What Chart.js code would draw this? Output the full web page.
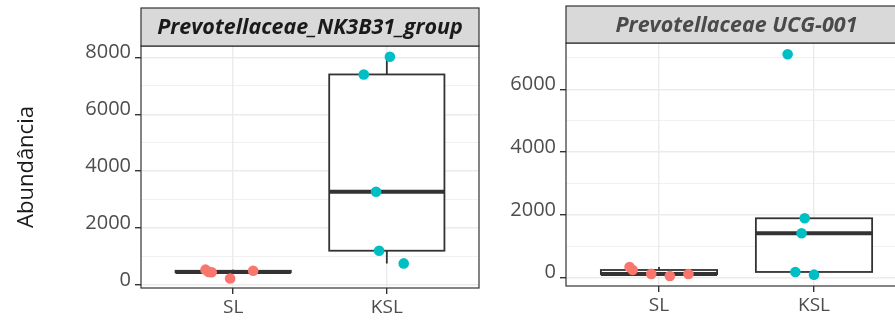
<!DOCTYPE html>
<html>
<head>
<meta charset="utf-8">
<script src="https://cdn.jsdelivr.net/npm/chart.js@4.4.0/dist/chart.umd.min.js"></script>
<style>
  html, body { margin: 0; padding: 0; background: #fff; }
  #wrap { position: relative; width: 895px; height: 322px; overflow: hidden; }
  .panel { position: absolute; top: 0; height: 322px; }
  #p1 { left: 0; width: 485px; }
  #p2 { left: 485px; width: 430px; }
</style>
</head>
<body>
<div id="wrap">
  <div class="panel" id="p1"><canvas id="nkChart"></canvas></div>
  <div class="panel" id="p2"><canvas id="ucgChart"></canvas></div>
</div>
<script>
const groups = ['SL', 'KSL'];
const groupColors = ['#F8766D', '#00BFC4'];

// Prevotellaceae_NK3B31_group
const nkSL = [540, 460, 450, 230, 500];
const nkSLJitter = [-0.18, -0.16, -0.14, -0.02, 0.13];
const nkKSL = [8020, 7400, 3280, 1205, 760];
const nkKSLJitter = [0.02, -0.15, -0.07, -0.05, 0.11];
const nkTicks = [0, 1000, 2000, 3000, 4000, 5000, 6000, 7000, 8000];

// Prevotellaceae UCG-001
const ucgSL = [340, 245, 120, 55, 115];
const ucgSLJitter = [-0.19, -0.17, -0.05, 0.07, 0.19];
const ucgKSL = [7115, 1892, 1414, 182, 96];
const ucgKSLJitter = [-0.17, -0.06, -0.08, -0.12, 0.0];
const ucgTicks = [0, 1000, 2000, 3000, 4000, 5000, 6000, 7000];

const FONT = "'Open Sans', 'DejaVu Sans', sans-serif";

// --- Helpers ---

function quantile(sorted, p) {
    const h = (sorted.length - 1) * p;
    const lo = Math.floor(h);
    const hi = Math.min(lo + 1, sorted.length - 1);
    return sorted[lo] + (h - lo) * (sorted[hi] - sorted[lo]);
}

function boxStats(values) {
    const s = [...values].sort((a, b) => a - b);
    const q1 = quantile(s, 0.25), med = quantile(s, 0.5), q3 = quantile(s, 0.75);
    const iqr = q3 - q1;
    const inside = s.filter(v => v >= q1 - 1.5 * iqr && v <= q3 + 1.5 * iqr);
    return { q1, med, q3, lo: Math.min(...inside), hi: Math.max(...inside) };
}

function pointSet(values, jitter, gi) {
    return {
        type: 'scatter',
        data: values.map((v, i) => ({ x: gi + 1 + jitter[i], y: v })),
        backgroundColor: groupColors[gi],
        borderWidth: 0,
        pointRadius: 5.3,
        pointHoverRadius: 5.3
    };
}

// boxes under the points, panel border + strip on top
const facetPlugin = {
    id: 'facet',
    beforeDatasetsDraw(chart) {
        const opts = chart.options.plugins.facet;
        const { ctx, scales: { x, y } } = chart;
        ctx.save();
        ctx.strokeStyle = '#333333';
        opts.series.forEach((values, gi) => {
            const st = boxStats(values);
            const cx = x.getPixelForValue(gi + 1);
            const l = x.getPixelForValue(gi + 1 - 0.375);
            const r = x.getPixelForValue(gi + 1 + 0.375);
            const yq1 = y.getPixelForValue(st.q1), yq3 = y.getPixelForValue(st.q3);
            ctx.lineWidth = 1.8;
            ctx.beginPath();
            ctx.moveTo(cx, yq3); ctx.lineTo(cx, y.getPixelForValue(st.hi));
            ctx.moveTo(cx, yq1); ctx.lineTo(cx, y.getPixelForValue(st.lo));
            ctx.stroke();
            ctx.fillStyle = '#ffffff';
            ctx.fillRect(l, yq3, r - l, yq1 - yq3);
            ctx.strokeRect(l, yq3, r - l, yq1 - yq3);
            ctx.lineWidth = 4;
            ctx.beginPath();
            const ym = y.getPixelForValue(st.med);
            ctx.moveTo(l, ym); ctx.lineTo(r, ym);
            ctx.stroke();
        });
        ctx.restore();
    },
    afterDraw(chart) {
        const opts = chart.options.plugins.facet;
        const { ctx, chartArea: a } = chart;
        ctx.save();
        ctx.strokeStyle = '#333333';
        ctx.lineWidth = 1.2;
        ctx.strokeRect(a.left, a.top, a.right - a.left, a.bottom - a.top);
        ctx.fillStyle = '#D9D9D9';
        ctx.fillRect(a.left, opts.stripTop, a.right - a.left, a.top - opts.stripTop);
        ctx.strokeRect(a.left, opts.stripTop, a.right - a.left, a.top - opts.stripTop);
        ctx.fillStyle = opts.titleColor;
        ctx.font = `italic bold 21.5px ${FONT}`;
        ctx.textAlign = 'center';
        ctx.textBaseline = 'middle';
        ctx.fillText(opts.title, (a.left + a.right) / 2, (opts.stripTop + a.top) / 2 + 1);
        ctx.restore();
    }
};

function makePanel(canvasId, cfg) {
    const major = v => v % 2000 === 0;
    return new Chart(document.getElementById(canvasId), {
        data: {
            datasets: [
                pointSet(cfg.sl, cfg.slJitter, 0),
                pointSet(cfg.ksl, cfg.kslJitter, 1)
            ]
        },
        options: {
            responsive: true,
            maintainAspectRatio: false,
            animation: false,
            events: [],
            layout: { padding: { top: cfg.top, right: cfg.right, left: 0, bottom: 0 } },
            plugins: {
                legend: { display: false },
                tooltip: { enabled: false },
                facet: { series: [cfg.sl, cfg.ksl], title: cfg.title, titleColor: cfg.titleColor, stripTop: cfg.stripTop }
            },
            scales: {
                x: {
                    type: 'linear',
                    min: 0.4,
                    max: 2.6,
                    afterBuildTicks: s => { s.ticks = groups.map((g, i) => ({ value: i + 1 })); },
                    afterFit: s => { s.height = cfg.xHeight; },
                    ticks: {
                        autoSkip: false,
                        maxRotation: 0,
                        padding: 2,
                        color: '#4D4D4D',
                        font: { family: FONT, size: 19 },
                        callback: v => groups[v - 1]
                    },
                    grid: { color: '#EBEBEB', lineWidth: 1.4, tickColor: '#333333', tickLength: 6 },
                    border: { display: false }
                },
                y: {
                    type: 'linear',
                    min: cfg.yMin,
                    max: cfg.yMax,
                    afterBuildTicks: s => { s.ticks = cfg.ticks.map(v => ({ value: v })); },
                    afterFit: s => { s.width = cfg.yWidth; },
                    ticks: {
                        autoSkip: false,
                        padding: 4,
                        labelOffset: -5,
                        color: '#4D4D4D',
                        font: { family: FONT, size: 20 },
                        callback: v => major(v) ? String(v) : ''
                    },
                    grid: {
                        color: '#EBEBEB',
                        lineWidth: c => major(c.tick.value) ? 1.4 : 0.7,
                        tickColor: c => major(c.tick.value) ? '#333333' : 'rgba(0,0,0,0)',
                        tickLength: 6
                    },
                    border: { display: false },
                    title: {
                        display: cfg.yTitle,
                        text: 'Abundância',
                        color: '#1A1A1A',
                        font: { family: FONT, size: 22 },
                        padding: { top: 14, bottom: 0 }
                    }
                }
            }
        },
        plugins: [facetPlugin]
    });
}

makePanel('nkChart', {
    sl: nkSL, slJitter: nkSLJitter, ksl: nkKSL, kslJitter: nkKSLJitter,
    ticks: nkTicks, yMin: -105, yMax: 8400,
    title: 'Prevotellaceae_NK3B31_group', titleColor: '#1A1A1A',
    top: 46, stripTop: 8, right: 6, xHeight: 34, yWidth: 141, yTitle: true
});

makePanel('ucgChart', {
    sl: ucgSL, slJitter: ucgSLJitter, ksl: ucgKSL, kslJitter: ucgKSLJitter,
    ticks: ucgTicks, yMin: -265, yMax: 7475,
    title: 'Prevotellaceae UCG-001', titleColor: '#4A4A4A',
    top: 43, stripTop: 6, right: 8, xHeight: 36, yWidth: 81, yTitle: false
});
</script>
</body>
</html>
